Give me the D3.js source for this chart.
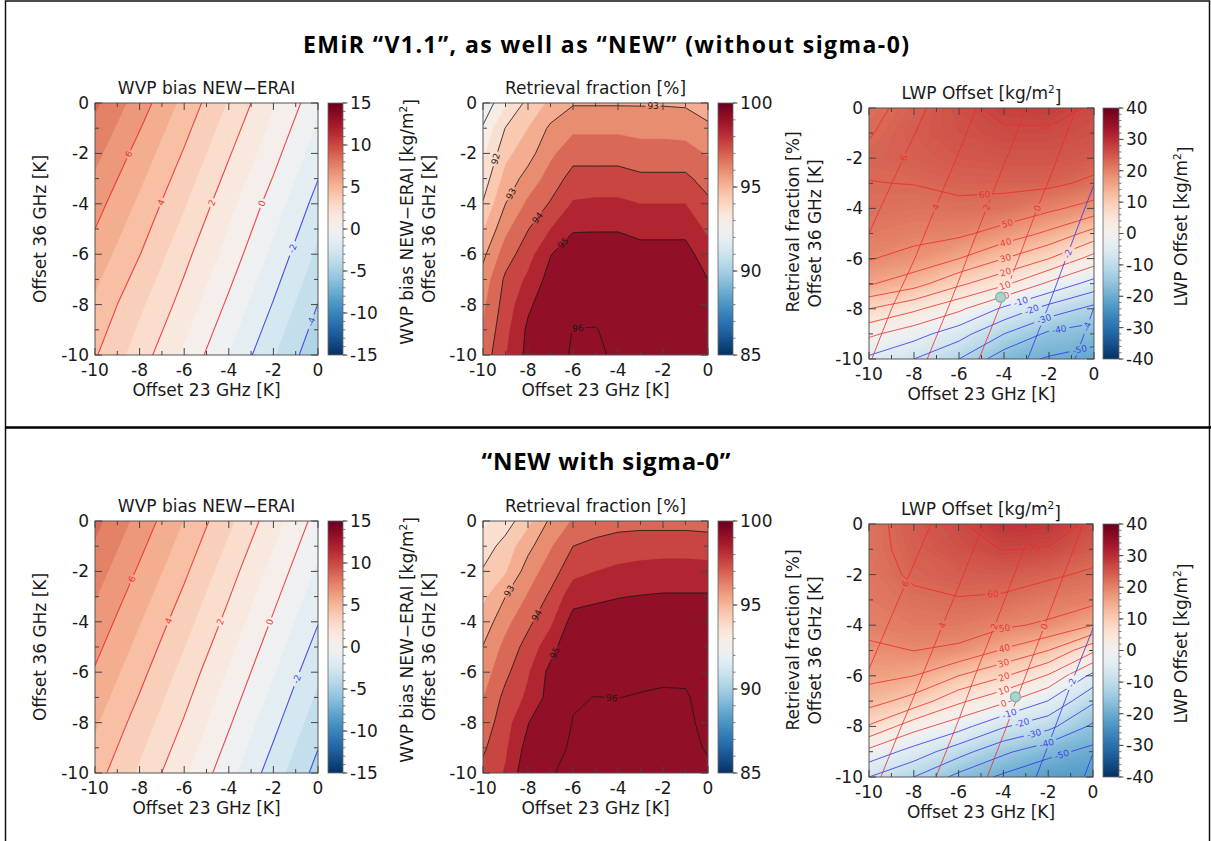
<!DOCTYPE html>
<html><head><meta charset="utf-8">
<script src="https://cdn.jsdelivr.net/npm/d3@7/dist/d3.min.js"></script>
<style>
html,body{margin:0;padding:0;background:#fff;}
svg{display:block;font-family:"DejaVu Sans",sans-serif;}
</style></head><body>
<svg id="chart" width="1211" height="841"></svg>
<script>
// ================= DATA =================
const offset23Coarse = [-10, -8, -6, -4, -2, 0];
const offset36Coarse = [0, -2, -4, -6, -8, -10];
const offset23Fine = [-10, -9, -8, -7, -6, -5, -4, -3, -2, -1, 0];
const offset36Fine = [0, -1, -2, -3, -4, -5, -6, -7, -8, -9, -10];
const axisMajorTicks = [-10, -8, -6, -4, -2, 0];
const axisMinorTicks = [-9, -7, -5, -3, -1];

// WVP bias NEW-ERAI [kg/m2], rows = offset36Coarse, cols = offset23Coarse
const wvpBiasV11 = [
  [8.2, 6.5, 4.7, 2.9, 1.1, -0.7],
  [7.3, 5.6, 3.9, 2.1, 0.35, -1.55],
  [6.4, 4.8, 3.1, 1.3, -0.46, -2.4],
  [5.6, 4.03, 2.3, 0.6, -1.26, -3.22],
  [4.8, 3.2, 1.6, -0.2, -2.07, -4.02],
  [4.1, 2.5, 0.8, -1.0, -2.9, -4.8]
];
const wvpBiasSigma0 = [
  [8.3, 6.64, 4.96, 3.23, 1.42, -0.40],
  [7.48, 5.84, 4.19, 2.43, 0.63, -1.17],
  [6.67, 5.06, 3.41, 1.67, -0.14, -1.95],
  [5.90, 4.31, 2.64, 0.89, -0.91, -2.78],
  [5.14, 3.56, 1.91, 0.13, -1.70, -3.58],
  [4.42, 2.83, 1.15, -0.65, -2.50, -4.37]
];
// Retrieval fraction [%], rows = offset36Fine, cols = offset23Fine
const retrievalFracV11 = [
  [90.6, 91.43, 92.16, 92.6, 92.95, 92.95, 92.95, 92.95, 92.95, 92.93, 92.6],
  [91.06, 92.02, 92.5, 93.1, 93.4, 93.4, 93.4, 93.35, 93.35, 93.3, 93.15],
  [91.39, 92.36, 92.8, 93.4, 93.8, 93.8, 93.8, 93.7, 93.7, 93.7, 93.45],
  [91.71, 92.68, 93.2, 93.7, 94.2, 94.2, 94.2, 94.1, 94.1, 94.1, 93.8],
  [92.04, 93.0, 93.6, 94.05, 94.55, 94.6, 94.6, 94.5, 94.5, 94.5, 94.1],
  [92.46, 93.38, 93.98, 94.5, 94.95, 94.96, 94.96, 94.85, 94.85, 94.85, 94.4],
  [92.88, 93.75, 94.3, 94.98, 95.3, 95.3, 95.3, 95.2, 95.2, 95.2, 94.7],
  [93.2, 94.1, 94.6, 95.2, 95.5, 95.5, 95.5, 95.4, 95.4, 95.35, 95.0],
  [93.4, 94.22, 94.9, 95.35, 95.7, 95.75, 95.65, 95.55, 95.5, 95.45, 95.2],
  [93.55, 94.35, 95.1, 95.5, 96.02, 96.03, 95.8, 95.65, 95.6, 95.5, 95.3],
  [93.7, 94.47, 95.15, 95.6, 96.1, 96.2, 95.8, 95.7, 95.6, 95.55, 95.35]
];
const retrievalFracSigma0 = [
  [91.4, 91.75, 92.35, 93.1, 93.55, 93.7, 93.8, 93.82, 93.82, 93.82, 93.8],
  [91.73, 92.2, 92.85, 93.45, 94.0, 94.15, 94.25, 94.3, 94.3, 94.3, 94.25],
  [92.05, 92.45, 93.25, 93.75, 94.35, 94.5, 94.6, 94.65, 94.7, 94.7, 94.7],
  [92.38, 93.0, 93.55, 94.1, 94.8, 94.92, 94.98, 95.02, 95.05, 95.05, 95.05],
  [92.7, 93.35, 93.88, 94.4, 95.2, 95.2, 95.25, 95.3, 95.35, 95.35, 95.3],
  [93.02, 93.65, 94.2, 94.8, 95.45, 95.45, 95.5, 95.55, 95.6, 95.6, 95.45],
  [93.25, 93.88, 94.45, 95.15, 95.7, 95.7, 95.75, 95.8, 95.85, 95.85, 95.6],
  [93.48, 94.15, 94.6, 95.2, 95.95, 96.01, 95.99, 96.05, 96.1, 96.08, 95.7],
  [93.7, 94.3, 94.97, 95.6, 96.02, 96.2, 96.2, 96.25, 96.25, 96.15, 95.8],
  [93.92, 94.42, 95.2, 95.75, 96.1, 96.3, 96.3, 96.3, 96.3, 96.15, 95.95],
  [94.15, 94.55, 95.4, 95.93, 96.25, 96.35, 96.35, 96.35, 96.3, 96.15, 96.1]
];
// LWP offset contour field, rows = offset36Fine, cols = offset23Coarse
const lwpOffsetV11 = [
  [58, 62.5, 68, 72, 73, 69],
  [59.5, 64, 67, 69, 69, 67],
  [61.5, 63, 65, 66, 66, 64],
  [59.8, 60.2, 62, 62, 62, 58],
  [58, 57, 58, 57, 52, 46],
  [55, 53, 52, 46, 38, 26],
  [50.5, 47, 40, 30, 20, 6],
  [41, 34, 22, 12, -2, -14],
  [20, 12, 2, -12, -24, -33],
  [2, -6, -16, -30, -42, -45],
  [-12, -20, -30, -46, -51, -55]
];
const lwpOffsetSigma0 = [
  [57, 64, 69, 76, 75, 68],
  [57, 63, 67, 70.3, 69.5, 64],
  [56, 61.5, 63.5, 64, 61.5, 58.5],
  [55, 58, 59.5, 58.5, 55, 53],
  [53, 55, 55, 51.5, 48.5, 40],
  [48, 50.1, 48, 39, 30, 12],
  [43, 40, 30, 21, 9, -13],
  [34, 26, 12, 2, -10.3, -28.5],
  [19, 4, -6, -19, -27, -42],
  [-3, -14, -26, -38, -47, -53],
  [-20, -30, -43, -52, -58, -60]
];

const wvpLevels = [-4, -2, 0, 2, 4, 6];
const fracLevels = [91, 92, 93, 94, 95, 96];
const lwpLevels = [-50, -40, -30, -20, -10, 0, 10, 20, 30, 40, 50, 60, 70];
const wvpColorbarTicks = [15, 10, 5, 0, -5, -10, -15];
const fracColorbarTicks = [100, 95, 90, 85];
const lwpColorbarTicks = [40, 30, 20, 10, 0, -10, -20, -30, -40];

// contour label anchors: [level, offset23, offset36]
const wvpLabelsV11 = [[6, -8.43, -2.05], [4, -6.87, -4.0], [2, -4.63, -4.0], [0, -2.46, -4.0], [-2, -1.19, -5.76], [-4, -0.3, -8.68]];
const wvpLabelsSigma0 = [[6, -8.28, -2.33], [4, -6.61, -4.0], [2, -4.37, -4.0], [0, -2.19, -4.0], [-2, -1.0, -6.26]];
const fracLabelsV11 = [[92, -9.33, -2.25], [93, -8.67, -3.64], [93, -2.44, -0.13], [94, -7.56, -4.57], [95, -6.44, -5.56], [96, -5.78, -9.0]];
const fracLabelsSigma0 = [[93, -8.89, -2.75], [94, -7.62, -3.74], [95, -6.88, -5.2], [96, -4.28, -7.05]];
const wvpOverlayLabelsV11 = [[6, -8.41, -2.01], [4, -6.88, -4.0], [2, -4.63, -4.0], [0, -2.48, -4.0], [-2, -1.22, -5.79], [-4, -0.33, -8.7]];
const wvpOverlayLabelsSigma0 = [[6, -8.35, -2.38], [4, -6.66, -4.03], [2, -4.38, -4.06], [0, -2.23, -4.03], [-2, -1.07, -6.23]];
const lwpLabelsV11 = [[70, -2.18, -0.75], [60, -4.85, -3.6], [50, -3.89, -4.46], [40, -3.96, -5.23], [30, -4.0, -5.79], [20, -3.99, -6.38], [10, -4.0, -6.94], [0, -3.89, -7.48], [-10, -3.26, -7.71], [-20, -2.74, -8.1], [-30, -2.18, -8.5], [-40, -1.54, -8.86], [-50, -0.62, -9.7]];
const lwpLabelsSigma0 = [[70, -2.6, -0.91], [60, -4.46, -2.84], [50, -3.94, -4.19], [40, -3.94, -4.95], [30, -3.98, -5.51], [20, -3.97, -6.04], [10, -3.98, -6.57], [0, -3.98, -7.09], [-10, -3.71, -7.56], [-20, -3.19, -7.78], [-30, -2.67, -8.15], [-40, -2.08, -8.64], [-50, -1.41, -9.08]];
const lwpMarkerV11 = [-4.15, -7.54];
const lwpMarkerSigma0 = [-3.46, -6.83];

// ================= DRAWING =================
const svg = d3.select('#chart');
const defs = svg.append('defs');
const RdBuR = t => d3.interpolateRdBu(1 - t);
let uid = 0;

const wvpColor = d3.scaleDiverging(RdBuR).domain([-15, 0, 15]).clamp(true);
const fracBarColor = d3.scaleDiverging(RdBuR).domain([85, 92.5, 100]).clamp(true);
const fracFillColor = d3.scaleDiverging(RdBuR).domain([86.2, 91, 95.8]).clamp(true);
const lwpBarColor = d3.scaleDiverging(RdBuR).domain([-40, 0, 40]).clamp(true);
const lwpFillColor = d3.scaleDiverging(RdBuR).domain([-105, 0, 105]).clamp(true);

const RED = 'rgb(236,45,45)', BLUE = 'rgb(50,50,236)';
const signColor = v => v >= 0 ? RED : BLUE;

function makeField(rows, xs, ys) {
  return {
    values: rows.flat(), nx: xs.length, ny: ys.length,
    gx: d3.scaleLinear().domain([0.5, xs.length - 0.5]).range([xs[0], xs[xs.length - 1]]),
    gy: d3.scaleLinear().domain([0.5, ys.length - 0.5]).range([ys[0], ys[ys.length - 1]])
  };
}

function ringToLines(ring, ok) {
  const pts = ring.slice(0, -1), n = pts.length;
  const keep = i => ok(pts[i]) && ok(pts[(i + 1) % n]);
  let start = -1;
  for (let i = 0; i < n; i++) if (!keep(i)) { start = i; break; }
  if (start < 0) return [ring];
  const lines = []; let cur = null;
  for (let k = 1; k <= n; k++) {
    const i = (start + k) % n;
    if (keep(i)) { if (!cur) cur = [pts[i]]; cur.push(pts[(i + 1) % n]); }
    else if (cur) { lines.push(cur); cur = null; }
  }
  if (cur) lines.push(cur);
  return lines;
}

function contourLines(f, level) {
  const c = d3.contours().size([f.nx, f.ny]).contour(f.values, level);
  const eps = 1e-6;
  const ok = p => p[0] >= 0.5 - eps && p[0] <= f.nx - 0.5 + eps && p[1] >= 0.5 - eps && p[1] <= f.ny - 0.5 + eps;
  const out = [];
  c.coordinates.forEach(poly => poly.forEach(ring =>
    ringToLines(ring, ok).forEach(l => { if (l.length > 1) out.push(l.map(p => [f.gx(p[0]), f.gy(p[1])])); })));
  return out;
}

function drawFill(g, f, thresholds, colorOf, baseColor, xS, yS) {
  const proj = d3.geoTransform({ point(px, py) { this.stream.point(xS(f.gx(px)), yS(f.gy(py))); } });
  const path = d3.geoPath(proj);
  const [x0, x1] = xS.range(), [y1, y0] = yS.range();
  g.append('rect').attr('x', x0).attr('y', y0).attr('width', x1 - x0).attr('height', y1 - y0).attr('fill', baseColor);
  const cs = d3.contours().size([f.nx, f.ny]).thresholds(thresholds)(f.values);
  g.selectAll(null).data(cs).join('path')
    .attr('d', path).attr('fill', d => colorOf(d.value))
    .attr('stroke', d => colorOf(d.value)).attr('stroke-width', 0.4);
}

function drawContours(gLines, gLabels, maskRects, f, levels, colorOf, width, opacity, labels, xS, yS) {
  const line = d3.line().x(d => xS(d[0])).y(d => yS(d[1]));
  levels.forEach(lv => {
    const ls = contourLines(f, lv);
    ls.forEach(l => gLines.append('path').attr('d', line(l)).attr('fill', 'none')
      .attr('stroke', colorOf(lv)).attr('stroke-width', width).attr('stroke-opacity', opacity)
      .attr('stroke-linejoin', 'round'));
    labels.filter(a => a[0] === lv).forEach(a => {
      const px = xS(a[1]), py = yS(a[2]);
      let best = null;
      ls.forEach(l => {
        for (let i = 0; i < l.length - 1; i++) {
          const ax = xS(l[i][0]), ay = yS(l[i][1]), bx = xS(l[i + 1][0]), by = yS(l[i + 1][1]);
          const dx = bx - ax, dy = by - ay, L2 = dx * dx + dy * dy || 1;
          let t = ((px - ax) * dx + (py - ay) * dy) / L2; t = Math.max(0, Math.min(1, t));
          const qx = ax + t * dx, qy = ay + t * dy, d = (qx - px) ** 2 + (qy - py) ** 2;
          if (!best || d < best.d) best = { d, qx, qy, ang: Math.atan2(dy, dx) * 180 / Math.PI };
        }
      });
      if (!best) return;
      let ang = best.ang; if (ang > 90) ang -= 180; if (ang < -90) ang += 180;
      const txt = String(lv);
      gLabels.append('text').attr('transform', `translate(${best.qx},${best.qy}) rotate(${ang})`)
        .attr('text-anchor', 'middle').attr('dy', '0.35em').attr('font-size', 9)
        .attr('fill', colorOf(lv)).attr('fill-opacity', Math.min(1, opacity + 0.1)).text(txt);
      maskRects.push({ x: best.qx, y: best.qy, ang, w: txt.length * 5.6 + 4, h: 10 });
    });
  });
}

function supText(sel, before, sup, after) {
  sel.append('tspan').text(before);
  sel.append('tspan').attr('dy', '-0.55em').attr('font-size', '0.62em').text(sup);
  sel.append('tspan').attr('dy', '0.55em').text(after);
}

function rotLabel(cx, cy, size) {
  return svg.append('text').attr('transform', `translate(${cx},${cy}) rotate(-90)`)
    .attr('text-anchor', 'middle').attr('dy', '0.35em').attr('font-size', size).attr('fill', '#1a1a1a');
}

function drawPanel(o) {
  const { L, T, R, B } = o;
  const xS = d3.scaleLinear().domain([-10, 0]).range([L, R]);
  const yS = d3.scaleLinear().domain([-10, 0]).range([B, T]);
  const id = 'p' + (uid++);
  defs.append('clipPath').attr('id', id + 'c').append('rect').attr('x', L).attr('y', T).attr('width', R - L).attr('height', B - T);
  const plot = svg.append('g').attr('clip-path', `url(#${id}c)`);
  drawFill(plot.append('g'), o.fill.field, o.fill.thresholds, o.fill.color, o.fill.base, xS, yS);
  const mask = defs.append('mask').attr('id', id + 'm').attr('maskUnits', 'userSpaceOnUse')
    .attr('x', L - 5).attr('y', T - 5).attr('width', R - L + 10).attr('height', B - T + 10);
  mask.append('rect').attr('x', L - 5).attr('y', T - 5).attr('width', R - L + 10).attr('height', B - T + 10).attr('fill', '#fff');
  const gLines = plot.append('g').attr('mask', `url(#${id}m)`);
  const gLabels = svg.append('g');
  const rects = [];
  o.lines.forEach(s => drawContours(gLines, gLabels, rects, s.field, s.levels, s.color, s.width, s.opacity, s.labels, xS, yS));
  rects.forEach(r => mask.append('rect').attr('x', -r.w / 2).attr('y', -r.h / 2).attr('width', r.w).attr('height', r.h)
    .attr('transform', `translate(${r.x},${r.y}) rotate(${r.ang})`).attr('fill', '#000'));
  if (o.marker) {
    svg.append('circle').attr('cx', xS(o.marker[0])).attr('cy', yS(o.marker[1])).attr('r', 5)
      .attr('fill', '#a9d3cc').attr('stroke', '#86b5ad').attr('stroke-width', 1.3);
  }
  // frame
  svg.append('rect').attr('x', L).attr('y', T).attr('width', R - L).attr('height', B - T)
    .attr('fill', 'none').attr('stroke', '#555').attr('stroke-width', 1);
  const tk = svg.append('g').attr('stroke', '#444').attr('stroke-width', 1);
  const tick = (v, len) => {
    tk.append('line').attr('x1', xS(v)).attr('x2', xS(v)).attr('y1', B).attr('y2', B - len);
    tk.append('line').attr('x1', xS(v)).attr('x2', xS(v)).attr('y1', T).attr('y2', T + len);
    tk.append('line').attr('y1', yS(v)).attr('y2', yS(v)).attr('x1', L).attr('x2', L + len);
    tk.append('line').attr('y1', yS(v)).attr('y2', yS(v)).attr('x1', R).attr('x2', R - len);
  };
  axisMajorTicks.forEach(v => tick(v, 7));
  axisMinorTicks.forEach(v => tick(v, 4));
  const tl = svg.append('g').attr('font-size', 17).attr('fill', '#1a1a1a');
  axisMajorTicks.forEach(v => {
    tl.append('text').attr('x', xS(v)).attr('y', B + 15).attr('dy', '0.35em').attr('text-anchor', 'middle').text(String(v));
    tl.append('text').attr('x', L - 6).attr('y', yS(v)).attr('dy', '0.35em').attr('text-anchor', 'end').text(String(v));
  });
  svg.append('text').attr('x', (L + R) / 2).attr('y', B + 35).attr('dy', '0.35em').attr('text-anchor', 'middle')
    .attr('font-size', 17).attr('fill', '#1a1a1a').text('Offset 23 GHz [K]');
  rotLabel(o.yLabelX, (T + B) / 2, 17).text('Offset 36 GHz [K]');
  // title
  const tt = svg.append('text').attr('x', (L + R) / 2).attr('y', T - 15).attr('dy', '0.35em').attr('text-anchor', 'middle')
    .attr('font-size', 17).attr('fill', '#1a1a1a');
  if (o.titleSup) supText(tt, o.title, '2', ']'); else tt.text(o.title);
  // colorbar
  const cb = o.cb;
  const cS = d3.scaleLinear().domain(cb.domain).range([B, T]);
  const gid = id + 'g';
  const grad = defs.append('linearGradient').attr('id', gid).attr('x1', 0).attr('x2', 0).attr('y1', 1).attr('y2', 0);
  d3.range(0, 1.0001, 0.02).forEach(t => grad.append('stop').attr('offset', t)
    .attr('stop-color', cb.color(cb.domain[0] + t * (cb.domain[1] - cb.domain[0]))));
  svg.append('rect').attr('x', cb.x).attr('y', T).attr('width', cb.w).attr('height', B - T)
    .attr('fill', `url(#${gid})`).attr('stroke', '#666').attr('stroke-width', 0.8);
  const cbr = cb.x + cb.w;
  d3.range(cb.domain[0], cb.domain[1] + 1e-9, cb.minor).forEach(v =>
    tk.append('line').attr('x1', cbr).attr('x2', cbr + 2.5).attr('y1', cS(v)).attr('y2', cS(v)).attr('stroke-width', 0.7));
  cb.ticks.forEach(v => {
    tk.append('line').attr('x1', cbr).attr('x2', cbr + 4.5).attr('y1', cS(v)).attr('y2', cS(v));
    tl.append('text').attr('x', cbr + 7).attr('y', cS(v)).attr('dy', '0.35em').text(String(v));
  });
  const cl = rotLabel(cb.labelX, (T + B) / 2 - cb.labelShift, 17);
  if (cb.labelSup) supText(cl, cb.label, '2', ']'); else cl.text(cb.label);
}

// fill definitions
const wvpThresholds = d3.range(-15, 15, 1);
const wvpFill = (f) => ({ field: f, thresholds: wvpThresholds, color: v => wvpColor(v + 0.5), base: wvpColor(-15) });
const fracThresholds = d3.range(88, 95.01, 0.5);
const fracFill = (f) => ({ field: f, thresholds: fracThresholds, color: v => fracFillColor(v + 0.25), base: fracFillColor(87.75) });
const lwpThresholds = d3.range(-80, 92, 1);
const lwpFill = (f) => ({ field: f, thresholds: lwpThresholds, color: v => lwpFillColor(v + 0.5), base: lwpFillColor(-80) });

const rows = [
  { top: 103, bot: 355, top3: 108, bot3: 359, wvp: wvpBiasV11, frac: retrievalFracV11, lwp: lwpOffsetV11,
    wl: wvpLabelsV11, fl: fracLabelsV11, ol: wvpOverlayLabelsV11, ll: lwpLabelsV11, mk: lwpMarkerV11, R3: 1094 },
  { top: 521, bot: 773, top3: 524, bot3: 777, wvp: wvpBiasSigma0, frac: retrievalFracSigma0, lwp: lwpOffsetSigma0,
    wl: wvpLabelsSigma0, fl: fracLabelsSigma0, ol: wvpOverlayLabelsSigma0, ll: lwpLabelsSigma0, mk: lwpMarkerSigma0, R3: 1093 }
];

rows.forEach(r => {
  const wF = makeField(r.wvp, offset23Coarse, offset36Coarse);
  const fF = makeField(r.frac, offset23Fine, offset36Fine);
  const lF = makeField(r.lwp, offset23Coarse, offset36Fine);
  drawPanel({ L: 95, T: r.top, R: 318, B: r.bot, fill: wvpFill(wF),
    lines: [{ field: wF, levels: wvpLevels, color: signColor, width: 1.1, opacity: 0.85, labels: r.wl }],
    yLabelX: 40, title: 'WVP bias NEW\u2212ERAI',
    cb: { x: 328, w: 15, domain: [-15, 15], color: v => wvpColor(v), ticks: wvpColorbarTicks, minor: 1,
      labelX: 407, labelShift: 7, label: 'WVP bias NEW\u2212ERAI [kg/m', labelSup: true } });
  drawPanel({ L: 483, T: r.top, R: 708, B: r.bot, fill: fracFill(fF),
    lines: [{ field: fF, levels: fracLevels, color: () => '#1a1a1a', width: 0.9, opacity: 0.9, labels: r.fl }],
    yLabelX: 429, title: 'Retrieval fraction [%]',
    cb: { x: 718, w: 15, domain: [85, 100], color: v => fracBarColor(v), ticks: fracColorbarTicks, minor: 1,
      labelX: 793, labelShift: 7, label: 'Retrieval fraction [%]', labelSup: false } });
  drawPanel({ L: 869, T: r.top3, R: r.R3, B: r.bot3, fill: lwpFill(lF),
    lines: [
      { field: lF, levels: lwpLevels, color: signColor, width: 1.0, opacity: 0.8, labels: r.ll },
      { field: wF, levels: wvpLevels, color: signColor, width: 1.0, opacity: 0.8, labels: r.ol }
    ],
    marker: r.mk, yLabelX: 815, title: 'LWP Offset [kg/m', titleSup: true,
    cb: { x: 1103, w: 16, domain: [-40, 40], color: v => lwpBarColor(v), ticks: lwpColorbarTicks, minor: 2,
      labelX: 1181, labelShift: 7, label: 'LWP Offset [kg/m', labelSup: true } });
});

// section titles and frame
svg.append('text').attr('x', 606).attr('y', 45).attr('dy', '0.35em').attr('text-anchor', 'middle')
  .attr('font-family', '"Open Sans", sans-serif').attr('font-weight', 'bold').attr('font-size', 23).attr('fill', '#000')
  .attr('textLength', 606).attr('lengthAdjust', 'spacing')
  .text('EMiR \u201CV1.1\u201D, as well as \u201CNEW\u201D (without sigma-0)');
svg.append('text').attr('x', 606).attr('y', 462).attr('dy', '0.35em').attr('text-anchor', 'middle')
  .attr('font-family', '"Open Sans", sans-serif').attr('font-weight', 'bold').attr('font-size', 24).attr('fill', '#000')
  .attr('textLength', 249).attr('lengthAdjust', 'spacing')
  .text('\u201CNEW with sigma-0\u201D');
svg.append('rect').attr('x', 5.5).attr('y', 1).attr('width', 1204).attr('height', 850)
  .attr('fill', 'none').attr('stroke', '#111').attr('stroke-width', 1.5);
svg.append('line').attr('x1', 5).attr('x2', 1211).attr('y1', 427.5).attr('y2', 427.5)
  .attr('stroke', '#000').attr('stroke-width', 2.5);
</script>
</body></html>
